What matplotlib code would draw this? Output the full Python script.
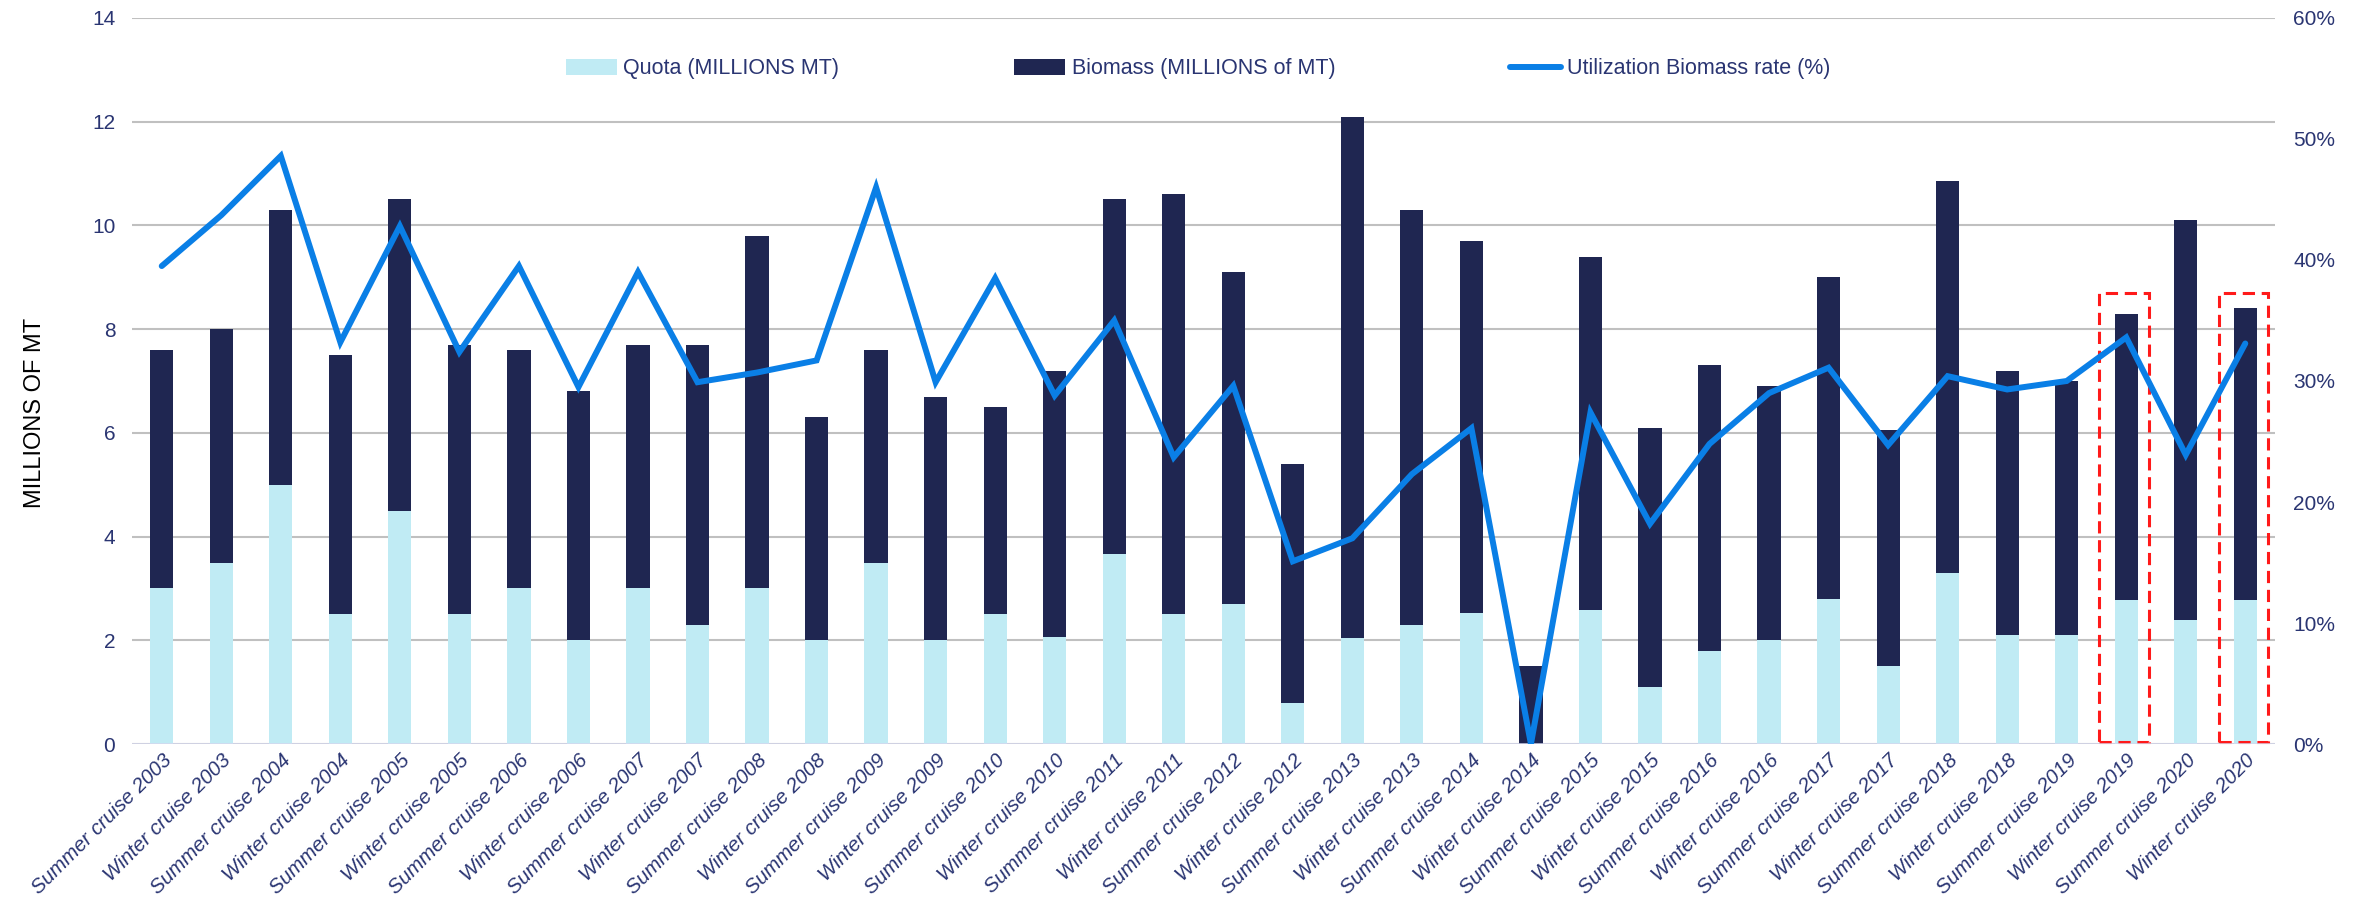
import matplotlib
matplotlib.use("Agg")
import matplotlib.pyplot as plt
from matplotlib.patches import Rectangle
import numpy as np

categories = [
    "Summer cruise 2003", "Winter cruise 2003", "Summer cruise 2004", "Winter cruise 2004",
    "Summer cruise 2005", "Winter cruise 2005", "Summer cruise 2006", "Winter cruise 2006",
    "Summer cruise 2007", "Winter cruise 2007", "Summer cruise 2008", "Winter cruise 2008",
    "Summer cruise 2009", "Winter cruise 2009", "Summer cruise 2010", "Winter cruise 2010",
    "Summer cruise 2011", "Winter cruise 2011", "Summer cruise 2012", "Winter cruise 2012",
    "Summer cruise 2013", "Winter cruise 2013", "Summer cruise 2014", "Winter cruise 2014",
    "Summer cruise 2015", "Winter cruise 2015", "Summer cruise 2016", "Winter cruise 2016",
    "Summer cruise 2017", "Winter cruise 2017", "Summer cruise 2018", "Winter cruise 2018",
    "Summer cruise 2019", "Winter cruise 2019", "Summer cruise 2020", "Winter cruise 2020",
]
biomass = [7.6, 8.0, 10.3, 7.5, 10.5, 7.7, 7.6, 6.8, 7.7, 7.7, 9.8, 6.3,
           7.6, 6.7, 6.5, 7.2, 10.5, 10.6, 9.1, 5.4, 12.1, 10.3, 9.7, 1.5,
           9.4, 6.1, 7.3, 6.9, 9.0, 6.05, 10.85, 7.2, 7.0, 8.3, 10.1, 8.4]
quota = [3.0, 3.5, 5.0, 2.5, 4.5, 2.5, 3.0, 2.0, 3.0, 2.3, 3.0, 2.0,
         3.5, 2.0, 2.5, 2.07, 3.67, 2.5, 2.7, 0.8, 2.05, 2.3, 2.53, 0.0,
         2.58, 1.1, 1.8, 2.0, 2.8, 1.5, 3.3, 2.1, 2.1, 2.78, 2.4, 2.78]
utilization = [39.5, 43.7, 48.6, 33.2, 42.8, 32.4, 39.5, 29.5, 39.0, 29.9, 30.7, 31.7,
               46.0, 29.9, 38.5, 28.8, 35.0, 23.7, 29.6, 15.1, 17.0, 22.3, 26.1, 0.0,
               27.4, 18.2, 24.8, 29.0, 31.1, 24.7, 30.4, 29.3, 30.0, 33.6, 23.9, 33.1]
highlighted = ["Winter cruise 2019", "Winter cruise 2020"]
y_ticks = [0, 2, 4, 6, 8, 10, 12, 14]
pct_ticks = [0, 10, 20, 30, 40, 50, 60]

base = "Liberation Sans"
NAVY = "#2A3572"
LIGHT = "#C0EBF4"
DARK = "#1F2651"
LINE = "#0A7FE6"

fig = plt.figure(figsize=(23.61, 8.99), dpi=100)
ax = fig.add_axes([0.0559, 0.1724, 0.9077, 0.8076])
ax2 = ax.twinx()

x = np.arange(len(categories))
bw = 0.39
ax.bar(x, biomass, width=bw, color=DARK, zorder=2, label="Biomass (MILLIONS of MT)")
ax.bar(x, quota, width=bw, color=LIGHT, zorder=3, label="Quota (MILLIONS MT)")
ax2.plot(x, utilization, color=LINE, lw=4.3, solid_joinstyle="miter",
         solid_capstyle="round", zorder=4, label="Utilization Biomass rate (%)")

for name in highlighted:
    i = categories.index(name)
    ax.add_patch(Rectangle((i - 0.45, 0.03), 0.83, 8.67, fill=False, edgecolor="#FF1A1A",
                           lw=2.2, ls=(0, (4, 2.2)), zorder=5, clip_on=False))

ax.set_xlim(-0.5, len(categories) - 0.5)
ax.set_ylim(0, 14)
ax2.set_ylim(0, 60)
ax.set_yticks(y_ticks)
ax.set_yticklabels([str(v) for v in y_ticks], fontfamily=base, fontsize=15, color=NAVY)
ax2.set_yticks(pct_ticks)
ax2.set_yticklabels([f"{v}%" for v in pct_ticks], fontfamily=base, fontsize=15, color=NAVY)
ax.set_xticks(x)
ax.set_xticklabels(categories, rotation=45, ha="right", rotation_mode="anchor",
                   fontfamily=base, fontstyle="italic", fontsize=14.8, color=NAVY)
ax.tick_params(axis="y", length=0, pad=12)
ax.tick_params(axis="x", length=0, pad=5)
ax2.tick_params(axis="y", length=0, pad=13)

ax.yaxis.grid(True, color="#C0C0C0", lw=1.5, zorder=0)
ax.set_axisbelow(True)
for a in (ax, ax2):
    for s in ("top", "left", "right", "bottom"):
        a.spines[s].set_visible(False)
ax.axhline(0, color="#D4D7EE", lw=1.8, zorder=6)

ax.set_ylabel("MILLIONS OF MT", fontfamily=base, fontsize=17, color="black")
ax.yaxis.set_label_coords(-0.040, 0.456)

h1, l1 = ax.get_legend_handles_labels()
h2, l2 = ax2.get_legend_handles_labels()
handles = [h1[1], h1[0], h2[0]]
labels = [l1[1], l1[0], l2[0]]
ax2.legend(handles, labels, loc="center", bbox_to_anchor=(0.4975, 0.93), ncol=3,
           frameon=False, prop={"family": base, "size": 15.5}, labelcolor=NAVY,
           columnspacing=8.1, handlelength=2.4, handletextpad=0.28, handleheight=0.75)

fig.savefig("out.png", dpi=100)
